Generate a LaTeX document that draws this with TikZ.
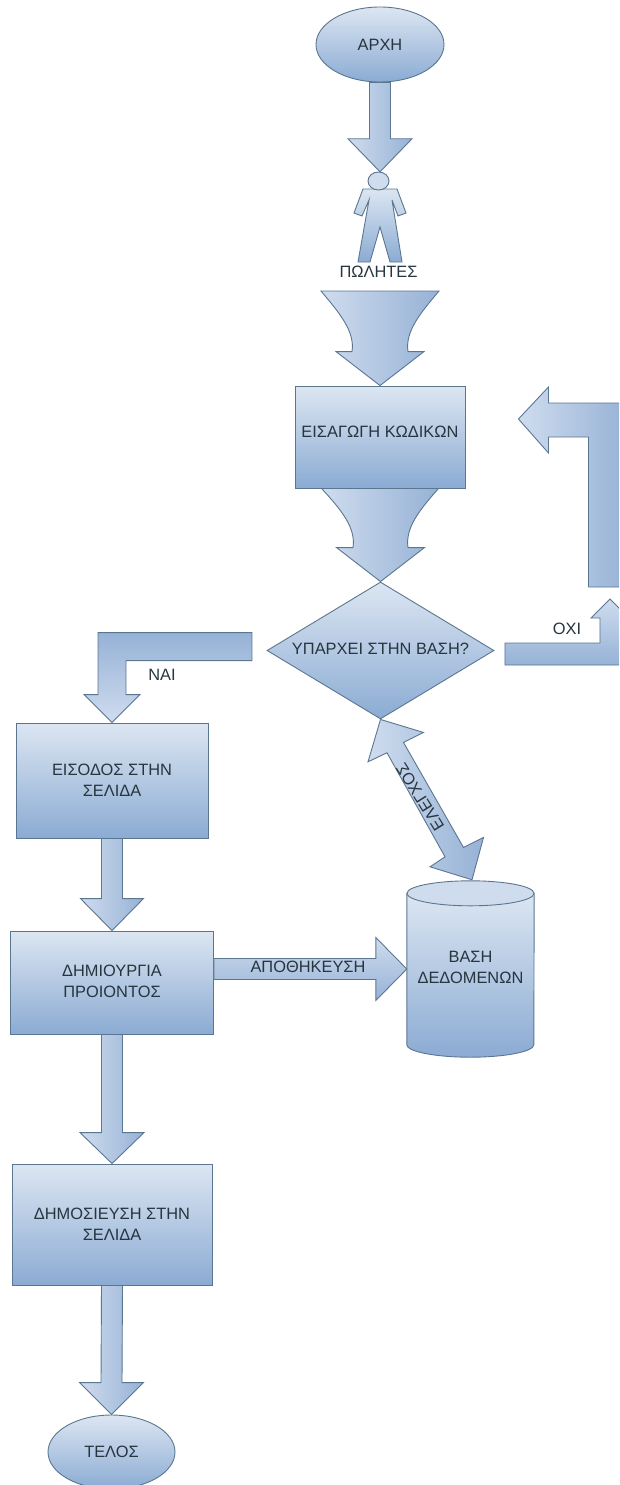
\documentclass[tikz,border=0pt]{standalone}
\usepackage{fontspec}
\setmainfont{Liberation Sans}
\usetikzlibrary{shapes.geometric,calc,backgrounds}
\definecolor{edgec}{HTML}{5B7690}
\definecolor{lightc}{HTML}{DCE6F2}
\definecolor{midc}{HTML}{CFDCEE}
\definecolor{darkc}{HTML}{8BABD3}
\definecolor{arrowc}{HTML}{96B2D6}
\definecolor{textc}{HTML}{27353F}
\tikzset{
  blockshade/.style={draw=edgec,line width=0.9pt,top color=lightc,bottom color=darkc,text=textc,
    font=\fontsize{16.4}{20.5}\selectfont,align=center,inner sep=0pt},
  boxnode/.style={blockshade,rectangle},
  ovalnode/.style={blockshade,ellipse},
  choicenode/.style={blockshade,diamond,aspect=1.66},
  freetext/.style={text=textc,font=\fontsize{16.4}{20.5}\selectfont,align=center,inner sep=0pt},
  arrowlr/.style={draw=edgec,line width=0.9pt,line join=miter,left color=midc,right color=arrowc},
  arrowtb/.style={draw=edgec,line width=0.9pt,line join=miter,top color=midc,bottom color=arrowc},
  arrowbt/.style={draw=edgec,line width=0.9pt,line join=miter,top color=arrowc,bottom color=midc}
}
% from, to, half shaft, half head, head length
\newcommand\vblock[5]{\path[arrowlr] ($(#1)+(-#3,0)$) -- ($(#1)+(#3,0)$) -- ($(#2)+(#3,-#5)$) -- ($(#2)+(#4,-#5)$) -- (#2) -- ($(#2)+(-#4,-#5)$) -- ($(#2)+(-#3,-#5)$) -- cycle;}
% from, to, top half, neck half, head half, head length
\newcommand\funnel[6]{\path[arrowlr] ($(#1)+(-#3,0)$) -- ($(#1)+(#3,0)$)
  .. controls ($(#2)+(#4+12,-#6-38)$) and ($(#2)+(#4-3,-#6-20)$) .. ($(#2)+(#4,-#6)$)
  -- ($(#2)+(#5,-#6)$) -- (#2) -- ($(#2)+(-#5,-#6)$) -- ($(#2)+(-#4,-#6)$)
  .. controls ($(#2)+(-#4+3,-#6-20)$) and ($(#2)+(-#4-12,-#6-38)$) .. ($(#1)+(-#3,0)$) -- cycle;}
\begin{document}
\begin{tikzpicture}[x=1pt,y=-1pt]
\useasboundingbox (0,0) rectangle (619,1485);
\clip (0,0) rectangle (619,1485);

% nodes
\node[ovalnode,minimum width=128,minimum height=75] (start) at (380,44.5) {ΑΡΧΗ};
\node[inner sep=0pt,minimum width=52,minimum height=90] (person) at (380,217) {};
\node[freetext] (sellers) at (378.5,272) {ΠΩΛΗΤΕΣ};
\node[boxnode,minimum width=170,minimum height=102] (codes) at (380,437) {\raisebox{11pt}{ΕΙΣΑΓΩΓΗ ΚΩΔΙΚΩΝ}};
\node[choicenode,minimum width=227,minimum height=137] (exists) at (380.5,650.5) {\raisebox{3pt}{ΥΠΑΡΧΕΙ ΣΤΗΝ ΒΑΣΗ?}};
\node[boxnode,minimum width=192,minimum height=115] (enter) at (112,780.5) {ΕΙΣΟΔΟΣ ΣΤΗΝ\\ΣΕΛΙΔΑ};
\node[boxnode,minimum width=203,minimum height=103] (create) at (112,982.5) {\raisebox{2pt}{\begin{tabular}{@{}c@{}}ΔΗΜΙΟΥΡΓΙΑ\\[0.5pt]ΠΡΟΙΟΝΤΟΣ\end{tabular}}};
\node[boxnode,minimum width=200,minimum height=121] (publish) at (112,1224.5) {ΔΗΜΟΣΙΕΥΣΗ ΣΤΗΝ\\ΣΕΛΙΔΑ};
\node[ovalnode,minimum width=127,minimum height=74] (end) at (111.5,1452) {ΤΕΛΟΣ};
\node[freetext,minimum width=127,minimum height=176] (db) at (470.5,969) {\raisebox{2pt}{\begin{tabular}{@{}c@{}}ΒΑΣΗ\\ΔΕΔΟΜΕΝΩΝ\end{tabular}}};

% database cylinder
\begin{scope}[on background layer]
\path[draw=edgec,line width=0.9pt,top color=lightc,bottom color=darkc]
  ($(db.north west)+(0,12.5)$) -- ($(db.south west)+(0,-12.5)$)
  arc[start angle=180,end angle=0,x radius=63.5,y radius=12.5]
  -- ($(db.north east)+(0,12.5)$) -- cycle;
\path[draw=edgec,line width=0.9pt,fill=midc] ($(db.north)+(0,12.5)$) ellipse [x radius=63.5,y radius=12.5];
\end{scope}

% person
\begin{scope}[shift={(person.center)}]
\path[draw=edgec,line width=0.9pt,top color=lightc,bottom color=darkc]
  (-17,-28) -- (17,-28) -- (26,-4) -- (18,-1) -- (12,-17) -- (22,45) -- (10,45) -- (0,10)
  -- (-10,45) -- (-22,45) -- (-11,-17) -- (-18,-1) -- (-26,-4) -- cycle;
\path[draw=edgec,line width=0.9pt,fill=midc] (-1.5,-36) ellipse [x radius=10.5,y radius=9];
\end{scope}

% straight and funnel arrows
\vblock{start.south}{person.north}{10.5}{32}{33}
\funnel{$(sellers)+(1.5,19)$}{codes.north}{59}{28}{44}{34}
\funnel{codes.south}{exists.north}{58.5}{27.5}{44}{34}
\vblock{enter.south}{create.north}{10.5}{31.5}{32}
\vblock{create.south}{publish.north}{10.5}{32}{31}
\vblock{publish.south}{end.north}{10.5}{32}{32}

% save arrow
\coordinate (saveroot) at (create.east |- db.west);
\path[arrowtb] ($(saveroot)+(0,-10.5)$) -- ($(db.west)+(-31,-10.5)$) -- ($(db.west)+(-31,-31.5)$) -- (db.west)
  -- ($(db.west)+(-31,31.5)$) -- ($(db.west)+(-31,10.5)$) -- ($(saveroot)+(0,10.5)$) -- cycle;
\node[freetext] (savelabel) at (308,967) {ΑΠΟΘΗΚΕΥΣΗ};

% check double arrow
\path[arrowlr] (exists.south) -- +(43,13) -- +(23,23) -- +(83,128) -- +(103,118)
  -- ($(db.north)+(1.5,-1)$) -- ++(-42,-13) -- +(15,-10) -- +(-43,-114) -- +(-62,-105) -- cycle;
\node[freetext,rotate=122] (checklabel) at (420,797) {ΕΛΕΓΧΟΣ};

% yes arrow
\path[arrowbt] (enter.north) -- +(28,-28) -- +(14,-28) -- +(14,-62) -- +(140,-62) -- +(140,-90)
  -- +(-14,-90) -- +(-14,-28) -- +(-28,-28) -- cycle;
\node[freetext] (yeslabel) at (162,675) {ΝΑΙ};

% no arrow
\coordinate (noroot) at ($(exists.east)+(10.5,-7.5)$);
\path[arrowtb] (noroot) -- +(95,0) -- +(95,-25) -- +(86,-25) -- +(105,-44) -- +(124,-25)
  -- +(116,-25) -- +(116,22) -- +(0,22) -- cycle;
\node[freetext] (nolabel) at (567,629) {ΟΧΙ};

% return arrow
\coordinate (backtip) at ($(codes.east)+(53,-18)$);
\path[arrowlr] (backtip) -- +(30,-32) -- +(30,-16) -- +(110,-16) -- +(110,168) -- +(70,168)
  -- +(70,18) -- +(30,18) -- +(30,34) -- cycle;
\end{tikzpicture}
\end{document}
